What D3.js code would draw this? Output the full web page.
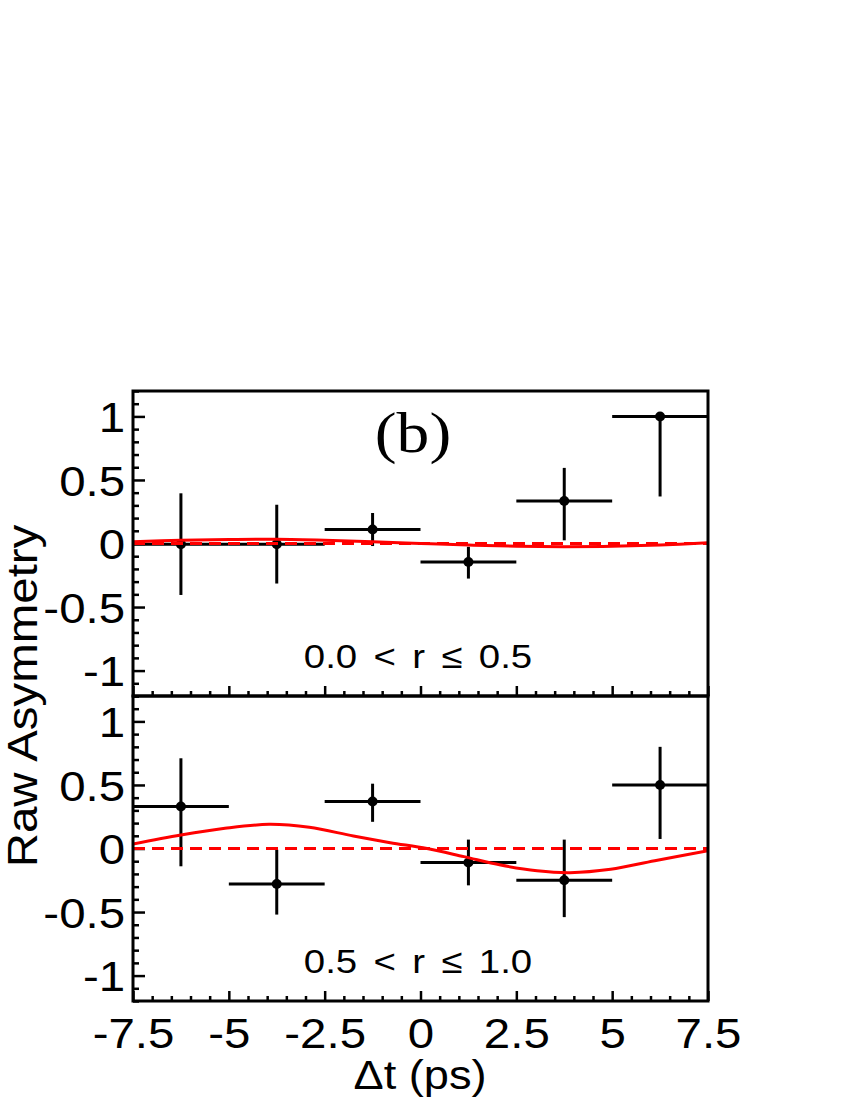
<!DOCTYPE html>
<html>
<head>
<meta charset="utf-8">
<script src="https://cdn.jsdelivr.net/npm/d3@7"></script>
<style>
  html, body { margin: 0; padding: 0; background: #fff; }
  svg { display: block; }
  text { font-family: "Liberation Sans", Arial, Helvetica, sans-serif; fill: #000; }
</style>
</head>
<body>
<svg id="chart" width="850" height="1100"></svg>
<script>
// ---------------- data ----------------
const binCenters = [-6.25, -3.75, -1.25, 1.25, 3.75, 6.25];
const binHalfWidths = [1.25, 1.25, 1.25, 1.25, 1.25, 1.25];

const topValues = [-0.005, -0.005, 0.11, -0.146, 0.335, 1.0];
const topErrUp = [0.40, 0.31, 0.13, 0.12, 0.26, 0.0];
const topErrDown = [0.40, 0.31, 0.13, 0.13, 0.31, 0.63];

const bottomValues = [0.33, -0.28, 0.37, -0.11, -0.25, 0.5];
const bottomErrUp = [0.38, 0.27, 0.14, 0.18, 0.32, 0.30];
const bottomErrDown = [0.47, 0.24, 0.16, 0.18, 0.29, 0.425];

const topCurveT = [-7.5, -6.25, -5, -3.75, -2.5, -1.25, 0, 1.25, 2.5, 3.75, 5, 6.25, 7.5];
const topCurveA = [0.014, 0.025, 0.032, 0.034, 0.026, 0.013, 0.0, -0.012, -0.021, -0.025, -0.022, -0.012, 0.005];

const bottomCurveT = [-7.5, -6.25, -5.10, -3.95, -2.90, -1.75, -0.79, 0.17, 1.13, 2.09, 3.04, 3.9, 4.96, 6.11, 7.5];
const bottomCurveA = [0.035, 0.106, 0.159, 0.19, 0.167, 0.098, 0.046, 0.0, -0.064, -0.13, -0.175, -0.19, -0.164, -0.096, -0.017];

const xMajorTicks = [-7.5, -5, -2.5, 0, 2.5, 5, 7.5];
const xTickLabels = ["-7.5", "-5", "-2.5", "0", "2.5", "5", "7.5"];
const yMajorTicks = [-1, -0.5, 0, 0.5, 1];
const yTickLabels = ["-1", "-0.5", "0", "0.5", "1"];

const panelLabels = ["0.0 < r \u2264 0.5", "0.5 < r \u2264 1.0"];
const xTitle = "\u0394t (ps)";
const yTitle = "Raw Asymmetry";
const tagLabel = "(b)";

// ---------------- layout ----------------
const svg = d3.select("#chart");
const X0 = 133, X1 = 708;
const panelTops = [391, 696];
const panelH = 305;
const SX = 1.13; // horizontal text stretch

const x = d3.scaleLinear().domain([-7.5, 7.5]).range([X0, X1]);

function stretchedText(g, px, py, str, size, anchor, family) {
  const t = g.append("text")
    .attr("transform", `translate(${px},${py}) scale(${SX},1)`)
    .attr("text-anchor", anchor)
    .style("font-size", size + "px")
    .text(str);
  if (family) t.style("font-family", family);
  return t;
}

const panels = [
  { vals: topValues, up: topErrUp, dn: topErrDown, ct: topCurveT, ca: topCurveA, label: panelLabels[0] },
  { vals: bottomValues, up: bottomErrUp, dn: bottomErrDown, ct: bottomCurveT, ca: bottomCurveA, label: panelLabels[1] }
];

panels.forEach((p, i) => {
  const top = panelTops[i];
  const y = d3.scaleLinear().domain([-1.2, 1.2]).range([top + panelH, top]);
  const g = svg.append("g");

  const clipId = "clip" + i;
  svg.append("clipPath").attr("id", clipId)
    .append("rect").attr("x", X0).attr("y", top).attr("width", X1 - X0).attr("height", panelH);

  // minor/major y ticks (inside, left)
  const yMinor = d3.range(-12, 13).map(v => v / 10).filter(v => !yMajorTicks.some(m => Math.abs(m - v) < 1e-9));
  const yAxisMinor = d3.axisLeft(y).tickValues(yMinor).tickSizeInner(-6).tickSizeOuter(0).tickFormat("");
  const yAxisMajor = d3.axisLeft(y).tickValues(yMajorTicks).tickSizeInner(-12).tickSizeOuter(0)
    .tickPadding(7).tickFormat(d => yTickLabels[yMajorTicks.indexOf(d)]);
  const gy1 = g.append("g").attr("transform", `translate(${X0},0)`).call(yAxisMinor);
  const gy2 = g.append("g").attr("transform", `translate(${X0},0)`).call(yAxisMajor);
  [gy1, gy2].forEach(a => {
    a.select(".domain").remove();
    a.selectAll("line").attr("stroke", "#000").attr("stroke-width", 2.5);
  });
  gy2.selectAll("text")
    .style("font-size", "42px")
    .style("font-family", '"Liberation Sans", Arial, sans-serif')
    .attr("dy", "0.36em")
    .attr("transform", `scale(${SX},1)`);

  // x ticks at bottom, pointing up
  const xMinor = d3.range(-15, 16).map(v => v / 2).filter(v => !xMajorTicks.some(m => Math.abs(m - v) < 1e-9));
  const xAxisMinor = d3.axisBottom(x).tickValues(xMinor).tickSizeInner(-5).tickSizeOuter(0).tickFormat("");
  const xAxisMajor = d3.axisBottom(x).tickValues(xMajorTicks).tickSizeInner(-10).tickSizeOuter(0)
    .tickPadding(12).tickFormat(d => i === 1 ? xTickLabels[xMajorTicks.indexOf(d)] : "");
  const gx1 = g.append("g").attr("transform", `translate(0,${top + panelH})`).call(xAxisMinor);
  const gx2 = g.append("g").attr("transform", `translate(0,${top + panelH})`).call(xAxisMajor);
  [gx1, gx2].forEach(a => {
    a.select(".domain").remove();
    a.selectAll("line").attr("stroke", "#000").attr("stroke-width", 2.5);
  });
  gx2.selectAll("text")
    .style("font-size", "42px")
    .style("font-family", '"Liberation Sans", Arial, sans-serif')
    .attr("y", 0).attr("dy", "1.0em")
    .attr("transform", `translate(0,5) scale(${SX},1)`);

  const plot = g.append("g").attr("clip-path", `url(#${clipId})`);

  // error bars
  binCenters.forEach((c, k) => {
    plot.append("line")
      .attr("x1", x(c - binHalfWidths[k])).attr("x2", x(c + binHalfWidths[k]))
      .attr("y1", y(p.vals[k])).attr("y2", y(p.vals[k]))
      .attr("stroke", "#000").attr("stroke-width", 3);
    plot.append("line")
      .attr("x1", x(c)).attr("x2", x(c))
      .attr("y1", y(p.vals[k] + p.up[k])).attr("y2", y(p.vals[k] - p.dn[k]))
      .attr("stroke", "#000").attr("stroke-width", 3);
    plot.append("circle")
      .attr("cx", x(c)).attr("cy", y(p.vals[k])).attr("r", 5)
      .attr("fill", "#000");
  });

  // dashed zero line
  plot.append("line")
    .attr("x1", x(-7.5)).attr("x2", x(7.5))
    .attr("y1", y(0)).attr("y2", y(0))
    .attr("stroke", "#ff0000").attr("stroke-width", 3)
    .attr("stroke-dasharray", "12,7");

  // fit curve
  const line = d3.line().x(d => x(d[0])).y(d => y(d[1])).curve(d3.curveCatmullRom.alpha(0.5));
  plot.append("path")
    .datum(p.ct.map((t, k) => [t, p.ca[k]]))
    .attr("d", line)
    .attr("fill", "none").attr("stroke", "#ff0000").attr("stroke-width", 3);

  // frame
  g.append("rect")
    .attr("x", X0).attr("y", top).attr("width", X1 - X0).attr("height", panelH)
    .attr("fill", "none").attr("stroke", "#000").attr("stroke-width", 3);

  // range label
  stretchedText(g, 418, top + 277, p.label, 34, "middle")
    .style("word-spacing", "5px");
});

// tag
stretchedText(svg, 413, 452, tagLabel, 58, "middle", '"Liberation Serif", "Times New Roman", serif');

// axis titles
stretchedText(svg, 420, 1089, xTitle, 40, "middle");
svg.append("text")
  .attr("transform", `translate(37,696) rotate(-90) scale(${SX},1)`)
  .attr("text-anchor", "middle")
  .style("font-size", "42px")
  .text(yTitle);
</script>
</body>
</html>
